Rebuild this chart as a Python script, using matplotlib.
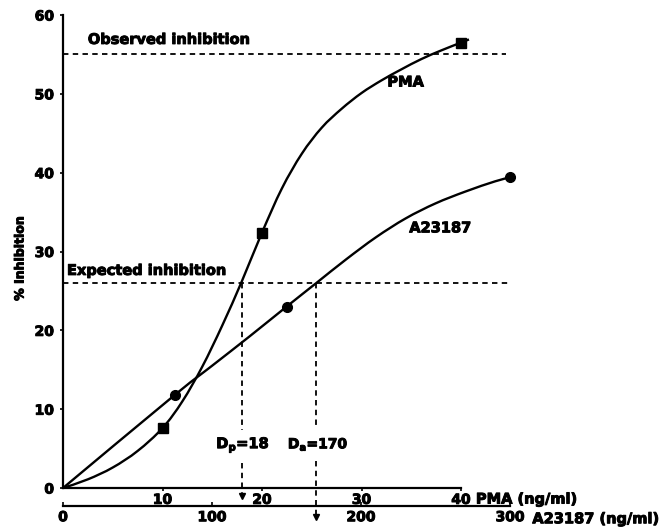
import numpy as np
import matplotlib
matplotlib.use("Agg")
import matplotlib.pyplot as plt
import matplotlib.patheffects as pe
from matplotlib.path import Path
from matplotlib.patches import PathPatch

plt.rcParams['font.family'] = ['DejaVu Sans']
plt.rcParams['font.weight'] = 'bold'
plt.rcParams['mathtext.fontset'] = 'dejavusans'

# measured points (squares / circles)
pma_dose = [10, 20, 40]
pma_inhib = [7.6, 32.4, 56.5]
a23_dose = [75, 150, 300]
a23_inhib = [11.8, 23.0, 39.4]

# fitted curves
pma_curve_x = [0, 2.5, 5, 7.5, 10, 12, 14, 16, 18, 20, 22, 24, 26, 28, 30, 32, 34, 36, 38, 40, 40.8]
pma_curve_y = [0, 1.1, 2.6, 4.7, 7.6, 11.0, 15.4, 20.6, 26.3, 32.4, 38.0, 42.4, 45.7, 48.1,
               50.1, 51.7, 53.1, 54.4, 55.5, 56.5, 56.9]
a23_curve_x = [0, 75, 100, 125, 150, 170, 190, 210, 230, 250, 270, 290, 300]
a23_curve_y = [0, 11.8, 15.5, 19.2, 23.0, 26.0, 29.0, 31.8, 34.2, 36.1, 37.6, 38.9, 39.4]

observed = 55.0
expected = 26.0
dp = 18
da = 170

pma_ticks = [10, 20, 30, 40]
a23_ticks = [0, 100, 200, 300]
y_ticks = [0, 10, 20, 30, 40, 50, 60]

heavy = [pe.withStroke(linewidth=0.7, foreground='black')]


def smooth_curve(ax, xs, ys, **kw):
    # catmull-rom through the read points, drawn as bezier path
    p = np.column_stack([xs, ys]).astype(float)
    p = np.vstack([p[0], p, p[-1]])
    verts = [p[1]]
    codes = [Path.MOVETO]
    for i in range(1, len(p) - 2):
        c1 = p[i] + (p[i + 1] - p[i - 1]) / 6
        c2 = p[i + 1] - (p[i + 2] - p[i]) / 6
        verts += [c1, c2, p[i + 1]]
        codes += [Path.CURVE4] * 3
    ax.add_patch(PathPatch(Path(verts, codes), fill=False, clip_on=False, **kw))


W, H = 663, 529
fig = plt.figure(figsize=(W / 100, H / 100), dpi=100)
ax = fig.add_axes([63 / W, 41 / H, 447 / W, 473 / H])
ax.set_xlim(0, 447 / 9.95)
ax.set_ylim(0, 60)

ax2 = ax.twiny()
ax2.set_xlim(0, 300 * 447 / 447.0)

lw_curve = 1.7
dash = dict(color='black', lw=1.3, dashes=[3, 2.4], clip_on=False)

# curves
smooth_curve(ax, pma_curve_x, pma_curve_y, lw=lw_curve, edgecolor='black')
ax.plot(pma_dose, pma_inhib, 's', color='black', ms=6.5, clip_on=False)
smooth_curve(ax2, a23_curve_x, a23_curve_y, lw=lw_curve, edgecolor='black')
ax2.plot(a23_dose, a23_inhib, 'o', color='black', ms=7, clip_on=False)

# reference lines
ax.plot([0, 44.5], [observed, observed], **dash)
ax.plot([0, 44.7], [expected, expected], **dash)

# drop lines with arrows
ax.plot([dp, dp], [expected, 7.4], **dash)
ax.plot([dp, dp], [3.2, -0.6], **dash)
ax.plot([dp], [-1.0], 'v', color='black', ms=4.5, clip_on=False)
ax2.plot([da, da], [expected, 7.6], **dash)
ax2.plot([da, da], [3.4, -3.3], **dash)
ax2.plot([da], [-3.7], 'v', color='black', ms=4.5, clip_on=False)

# texts
fs = 10.5
texts = [
    ax.text(2.5, 56.9, 'Observed inhibition', fontsize=fs, va='center', ha='left'),
    ax.text(0.4, 27.6, 'Expected inhibition', fontsize=fs, va='center', ha='left'),
    ax.text(32.6, 51.5, 'PMA', fontsize=fs, va='center', ha='left'),
    ax.text(34.8, 33.0, 'A23187', fontsize=fs, va='center', ha='left'),
    ax.text(15.4, 5.5, r'D$_\mathbf{p}$=18', fontsize=fs, va='center', ha='left'),
    ax.text(22.6, 5.5, r'D$_\mathbf{a}$=170', fontsize=10, va='center', ha='left'),
    ax.text(41.5, -1.4, 'PMA (ng/ml)', fontsize=fs, va='center', ha='left'),
    ax2.text(315, -3.9, 'A23187 (ng/ml)', fontsize=fs, va='center', ha='left'),
    fig.text(20 / W, 1 - 259 / H, '% Inhibition', rotation=90, fontsize=9,
             va='center', ha='center'),
]
for t in texts:
    t.set_path_effects(heavy)

# axes styling
for s in ['top', 'right']:
    ax.spines[s].set_visible(False)
ax.spines['left'].set_bounds(0, 60)
ax.spines['bottom'].set_bounds(0, 40)
ax.spines['left'].set_linewidth(1.6)
ax.spines['bottom'].set_linewidth(1.6)
ax.set_yticks(y_ticks)
ax.set_xticks(pma_ticks)
ax.tick_params(axis='y', direction='out', length=2.5, width=1.2, pad=4, labelsize=10)
ax.tick_params(axis='x', direction='out', length=2.5, width=1.2, pad=1, labelsize=10)

for s in ['top', 'right', 'left']:
    ax2.spines[s].set_visible(False)
ax2.spines['bottom'].set_visible(True)
ax2.spines['bottom'].set_position(('outward', 13))
ax2.spines['bottom'].set_bounds(0, 300)
ax2.spines['bottom'].set_linewidth(1.6)
ax2.xaxis.set_ticks_position('bottom')
ax2.xaxis.set_label_position('bottom')
ax2.set_xticks(a23_ticks)
ax2.tick_params(axis='x', direction='in', length=3, width=1.2, pad=3, labelsize=10)

for lab in ax.get_xticklabels() + ax.get_yticklabels() + ax2.get_xticklabels():
    lab.set_path_effects(heavy)

fig.savefig('out.png', dpi=100)
